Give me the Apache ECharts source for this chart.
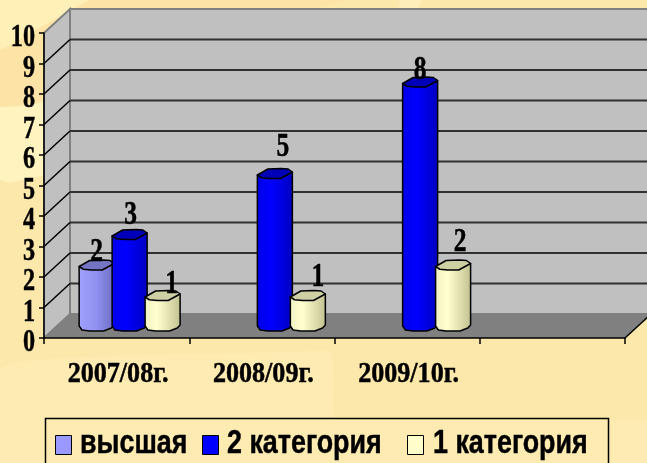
<!DOCTYPE html>
<html>
<head>
<meta charset="utf-8">
<style>
html, body { margin: 0; padding: 0; width: 647px; height: 463px; overflow: hidden; background: #fce8ab; }
#bg { position: absolute; left: 0; top: 0; }
#chart { position: absolute; left: 0; top: 0; width: 647px; height: 463px; }
</style>
<script src="https://cdn.jsdelivr.net/npm/echarts@6/dist/echarts.min.js"></script>
</head>
<body>
<svg id="bg" width="647" height="463">
  <rect width="647" height="463" fill="#fce8ab"/>
  <path d="M0 50 C30 35 60 15 90 0 L0 0 Z" fill="#fff0b8"/>
  <path d="M0 50 C30 35 60 15 90 0 L350 0 C200 30 100 100 0 107 Z" fill="#fde4a6"/>
  <path d="M0 107 C20 107 40 105 45 100 L45 175 L10 183 L0 180 Z" fill="#fff3c0"/>
  <path d="M400 0 L422 0 L416 10 L398 10 Z" fill="#feefba"/>
  <path d="M15 362 C120 352 260 355 330 350 C338 375 330 400 335 420 L0 420 L0 368 Z" fill="#fdebb2"/>
  <path d="M0 420 L647 420 L647 463 L0 463 Z" fill="#fdebb2"/>
</svg>
<div id="chart"></div>
<script>
// значения диаграммы
var categories = ['2007/08г.', '2008/09г.', '2009/10г.', ''];
var yTicks = [0, 1, 2, 3, 4, 5, 6, 7, 8, 9, 10];
var vysshaya = [2, null, null, null];
var kat2 = [3, 5, 8, null];
var kat1 = [1, 1, 2, null];
var seriesNames = ['высшая', '2 категория', '1 категория'];
var seriesColors = ['#9999ff', '#0000ff', '#ffffcc'];

// глубина псевдо-3D
var depthX = 26, depthY = 24;
// сдвиг подписей значений относительно цилиндра [dx, dy], как на картинке
var labelShift = {
    low: [[0, 4]],
    mid: [[1, -2], [8, -9], [0, 5]],
    top: [[9, 6], [10, -1], [7, -6]]
};

var myChart = echarts.init(document.getElementById('chart'));

function poly(points, style) {
    return { type: 'polygon', shape: { points: points }, style: style };
}

// текст с горизонтальным сжатием, шрифт на картинке вытянут по вертикали
function narrowText(x, y, text, size, scale, vAlign, align, family) {
    return {
        type: 'text',
        x: x,
        y: y,
        scaleX: scale,
        z2: 10,
        style: {
            x: 0,
            y: 0,
            text: text,
            fill: '#000000',
            stroke: '#000000',
            lineWidth: 0.5,
            font: 'bold ' + size + 'px "' + (family || 'Liberation Serif') + '"',
            textAlign: align || 'center',
            textVerticalAlign: vAlign
        }
    };
}

// стены и пол
function renderWalls(params, api) {
    var c = params.coordSys;
    var x0 = c.x, x1 = c.x + c.width, yt = c.y, yb = c.y + c.height;
    var edge = { stroke: '#808080', lineWidth: 2 };
    return {
        type: 'group',
        children: [
            poly([[x0, yb], [x0 + depthX, yb - depthY], [x0 + depthX, yt - depthY], [x0, yt]],
                Object.assign({ fill: '#c0c0c0' }, edge)),
            poly([[x0 + depthX, yb - depthY], [x1 + depthX, yb - depthY], [x1 + depthX, yt - depthY], [x0 + depthX, yt - depthY]],
                Object.assign({ fill: '#c0c0c0' }, edge)),
            poly([[x0, yb], [x0 + depthX, yb - depthY], [x1 + depthX, yb - depthY], [x1, yb]],
                { fill: '#808080' }),
            {
                type: 'line',
                shape: { x1: x1, y1: yb, x2: x1 + depthX, y2: yb - depthY },
                style: { stroke: '#000000', lineWidth: 1.5 }
            }
        ]
    };
}

// линии сетки по боковой и задней стенкам
function renderGridLine(params, api) {
    var c = params.coordSys;
    var v = api.value(0);
    var y = api.coord([0, v])[1];
    if (v === 0 || v === 10) {
        return;
    }
    return {
        type: 'group',
        children: [
            {
                type: 'line',
                shape: { x1: c.x, y1: y, x2: c.x + depthX, y2: y - depthY },
                style: { stroke: '#000000', lineWidth: 1.5 }
            },
            {
                type: 'line',
                shape: { x1: c.x + depthX, y1: y - depthY, x2: c.x + c.width + depthX, y2: y - depthY },
                style: { stroke: '#303030', lineWidth: 2 }
            }
        ]
    };
}

// подписи оси значений
function renderYLabel(params, api) {
    var c = params.coordSys;
    var v = api.value(0);
    var y = api.coord([0, v])[1];
    return narrowText(c.x - 9, y + 5, String(v), 31, 0.78, 'middle', 'right');
}

// подписи оси категорий
function renderXLabel(params, api) {
    var i = api.value(0);
    var p = api.coord([i, 0]);
    return narrowText(p[0] + 1.5, p[1] + 37, categories[i], 29, 0.9, 'middle');
}

// цилиндр: slot = -1, 0, 1 внутри категории
function cylinder(slot, shifts, side, top) {
    return function (params, api) {
        var val = api.value(1);
        if (val == null || isNaN(val)) {
            return;
        }
        var i = api.value(0);
        var size = api.size([1, 0])[0];
        var bw = size * 0.241;
        var base = api.coord([i, 0]);
        var head = api.coord([i, val]);
        var cx = base[0] + depthX / 2 + slot * size * 0.227;
        var yb = base[1] - depthY / 2;
        var yt = head[1] - depthY / 2;
        var l = cx - bw / 2, r = cx + bw / 2;
        var h = 5;
        var bodyPts = [
            [l, yt + h * 0.3], [l, yb], [l + bw * 0.08, yb + h * 0.8], [cx - bw * 0.2, yb + h],
            [cx + bw * 0.2, yb + h], [r - bw * 0.08, yb + h * 0.4], [r, yb - 1], [r, yt - h * 0.3]
        ];
        var topPts = [
            [l, yt + h * 0.3], [l + bw * 0.12, yt + h * 0.85], [cx - bw * 0.15, yt + h], [cx + bw * 0.16, yt + h],
            [r, yt - h * 0.3], [r - bw * 0.12, yt - h * 0.9], [cx + bw * 0.18, yt - h], [cx - bw * 0.2, yt - h * 0.9]
        ];
        var line = { stroke: '#000000', lineWidth: 1.5, lineJoin: 'round' };
        var shift = shifts[i];
        return {
            type: 'group',
            children: [
                poly(bodyPts, Object.assign({
                    fill: new echarts.graphic.LinearGradient(0, 0, 1, 0, side)
                }, line)),
                poly(topPts, Object.assign({ fill: top }, line)),
                narrowText(cx + shift[0], yt + shift[1], String(val), 34, 0.75, 'bottom')
            ]
        };
    };
}

function rows(values) {
    return values.map(function (v, i) { return [i, v]; });
}

// легенда в рамке, обрезанной снизу краем картинки
function legendGraphic() {
    var swatchX = [55, 202, 407];
    var textX = [80, 227, 433];
    var items = [{
        type: 'rect',
        shape: { x: 45.5, y: 418.5, width: 563, height: 60 },
        style: { fill: null, stroke: '#000000', lineWidth: 1.5 }
    }];
    seriesNames.forEach(function (name, i) {
        items.push({
            type: 'rect',
            shape: { x: swatchX[i] + 0.5, y: 435.5, width: 16, height: 19 },
            style: { fill: seriesColors[i], stroke: '#000000', lineWidth: 1 }
        });
        items.push(narrowText(textX[i], 444, name, 34, 0.79, 'middle', 'left', 'Liberation Sans'));
    });
    return items;
}

var option = {
    animation: false,
    grid: { left: 44, right: 22, top: 33, height: 305 },
    xAxis: {
        type: 'category',
        data: categories,
        z: 5,
        axisLine: { lineStyle: { color: '#000000', width: 1.5 } },
        axisTick: { show: true, alignWithLabel: false, length: 6, lineStyle: { color: '#000000', width: 1.5 } },
        axisLabel: { show: false }
    },
    yAxis: {
        type: 'value',
        min: 0,
        max: 10,
        interval: 1,
        z: 5,
        splitLine: { show: false },
        axisLine: { show: true, lineStyle: { color: '#000000', width: 1.5 } },
        axisTick: { show: true, length: 5, lineStyle: { color: '#000000', width: 1.5 } },
        axisLabel: { show: false }
    },
    graphic: legendGraphic(),
    series: [
        { type: 'custom', coordinateSystem: 'cartesian2d', z: 1, silent: true, data: [[0]], renderItem: renderWalls, encode: { x: 0 } },
        { type: 'custom', coordinateSystem: 'cartesian2d', z: 1, silent: true, data: yTicks.map(function (v) { return [v]; }), renderItem: renderGridLine, encode: { y: 0 } },
        { type: 'custom', coordinateSystem: 'cartesian2d', z: 6, silent: true, data: yTicks.map(function (v) { return [v]; }), renderItem: renderYLabel, encode: { y: 0 } },
        { type: 'custom', coordinateSystem: 'cartesian2d', z: 6, silent: true, data: [[0], [1], [2]], renderItem: renderXLabel, encode: { x: 0 } },
        {
            name: seriesNames[0], type: 'custom', coordinateSystem: 'cartesian2d', z: 3,
            data: rows(vysshaya), encode: { x: 0, y: 1 },
            renderItem: cylinder(-1, labelShift.low, [{ offset: 0, color: '#a0a0ff' }, { offset: 0.5, color: '#9090f0' }, { offset: 1, color: '#6c6cc0' }], '#7474c4')
        },
        {
            name: seriesNames[1], type: 'custom', coordinateSystem: 'cartesian2d', z: 4,
            data: rows(kat2), encode: { x: 0, y: 1 },
            renderItem: cylinder(0, labelShift.mid, [{ offset: 0, color: '#0000e8' }, { offset: 0.4, color: '#0000ff' }, { offset: 1, color: '#0000c0' }], '#0000b8')
        },
        {
            name: seriesNames[2], type: 'custom', coordinateSystem: 'cartesian2d', z: 5,
            data: rows(kat1), encode: { x: 0, y: 1 },
            renderItem: cylinder(1, labelShift.top, [{ offset: 0, color: '#f0f0c4' }, { offset: 0.35, color: '#ffffd0' }, { offset: 1, color: '#c0c090' }], '#cfcfa4')
        }
    ]
};
myChart.setOption(option);
</script>
</body>
</html>
